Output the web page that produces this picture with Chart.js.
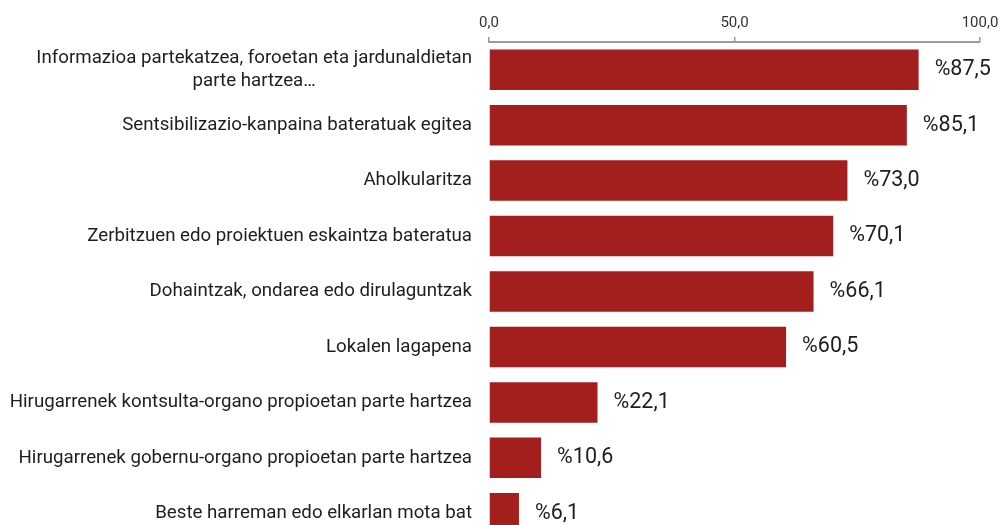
<!DOCTYPE html>
<html>
<head>
<meta charset="utf-8">
<script src="https://cdn.jsdelivr.net/npm/chart.js@4/dist/chart.umd.min.js"></script>
<style>
  html, body { margin: 0; padding: 0; background: #fff; overflow: hidden; }
  #wrap { position: relative; width: 1000px; height: 541px; }
</style>
</head>
<body>
<div id="wrap"><canvas id="c"></canvas></div>
<script>
// Harreman motak eta ehunekoak
const categories = [
  ["Informazioa partekatzea, foroetan eta jardunaldietan", "parte hartzea…"],
  ["Sentsibilizazio-kanpaina bateratuak egitea"],
  ["Aholkularitza"],
  ["Zerbitzuen edo proiektuen eskaintza bateratua"],
  ["Dohaintzak, ondarea edo dirulaguntzak"],
  ["Lokalen lagapena"],
  ["Hirugarrenek kontsulta-organo propioetan parte hartzea"],
  ["Hirugarrenek gobernu-organo propioetan parte hartzea"],
  ["Beste harreman edo elkarlan mota bat"]
];
const percentages = [87.5, 85.1, 73.0, 70.1, 66.1, 60.5, 22.1, 10.6, 6.1];
const axisTicks = [0, 50, 100];

const FONT = "Roboto, 'Noto Sans', sans-serif";
const TEXT = "#1e1e1e";
const BAR = "#A21F1D";

const fmt = (v, d) => v.toFixed(d).replace(".", ",");

// Category labels: multi-line blocks centred on their widest line, right edge fixed
const categoryLabels = {
  id: "categoryLabels",
  afterDraw(chart) {
    const ctx = chart.ctx;
    const y = chart.scales.y;
    const right = 472, lh = 23;
    ctx.save();
    ctx.font = "18.7px " + FONT;
    ctx.fillStyle = TEXT;
    ctx.textAlign = "center";
    ctx.textBaseline = "middle";
    categories.forEach((lines, i) => {
      const cy = y.getPixelForValue(i);
      const maxW = Math.max(...lines.map(l => ctx.measureText(l).width));
      const cx = right - maxW / 2;
      lines.forEach((l, j) => {
        ctx.fillText(l, cx, cy + (j - (lines.length - 1) / 2) * lh);
      });
    });
    ctx.restore();
  }
};

// Value labels at the end of each bar
const valueLabels = {
  id: "valueLabels",
  afterDatasetsDraw(chart) {
    const ctx = chart.ctx;
    const meta = chart.getDatasetMeta(0);
    ctx.save();
    ctx.font = "21.5px " + FONT;
    ctx.fillStyle = TEXT;
    ctx.textAlign = "left";
    ctx.textBaseline = "middle";
    meta.data.forEach((bar, i) => {
      ctx.fillText("%" + fmt(percentages[i], 1), bar.x + 16, bar.y);
    });
    ctx.restore();
  }
};

new Chart(document.getElementById("c"), {
  type: "bar",
  data: {
    labels: categories,
    datasets: [{
      data: percentages,
      backgroundColor: BAR,
      borderWidth: 0,
      barPercentage: 0.73,
      categoryPercentage: 1
    }]
  },
  options: {
    indexAxis: "y",
    responsive: true,
    maintainAspectRatio: false,
    animation: false,
    layout: { padding: { left: 0, right: 20, top: 0, bottom: 0 } },
    plugins: { legend: { display: false }, tooltip: { enabled: false } },
    scales: {
      x: {
        position: "top",
        min: axisTicks[0],
        max: axisTicks[axisTicks.length - 1],
        afterBuildTicks(scale) { scale.ticks = axisTicks.map(v => ({ value: v })); },
        afterFit(scale) {
          scale.height = 42;
          scale.paddingLeft = 0;
          scale.paddingRight = 0;
        },
        ticks: {
          font: { family: FONT, size: 15 },
          color: "#333333",
          padding: 5,
          maxRotation: 0,
          callback: v => fmt(v, 1)
        },
        grid: {
          drawOnChartArea: false,
          drawTicks: true,
          tickLength: 5,
          color: "#9a9a9a",
          lineWidth: 1.5
        },
        border: { display: true, color: "#9a9a9a", width: 2 }
      },
      y: {
        afterFit(scale) { scale.width = 489; },
        ticks: { display: false },
        grid: { display: false },
        border: { display: false }
      }
    }
  },
  plugins: [categoryLabels, valueLabels]
});
</script>
</body>
</html>
